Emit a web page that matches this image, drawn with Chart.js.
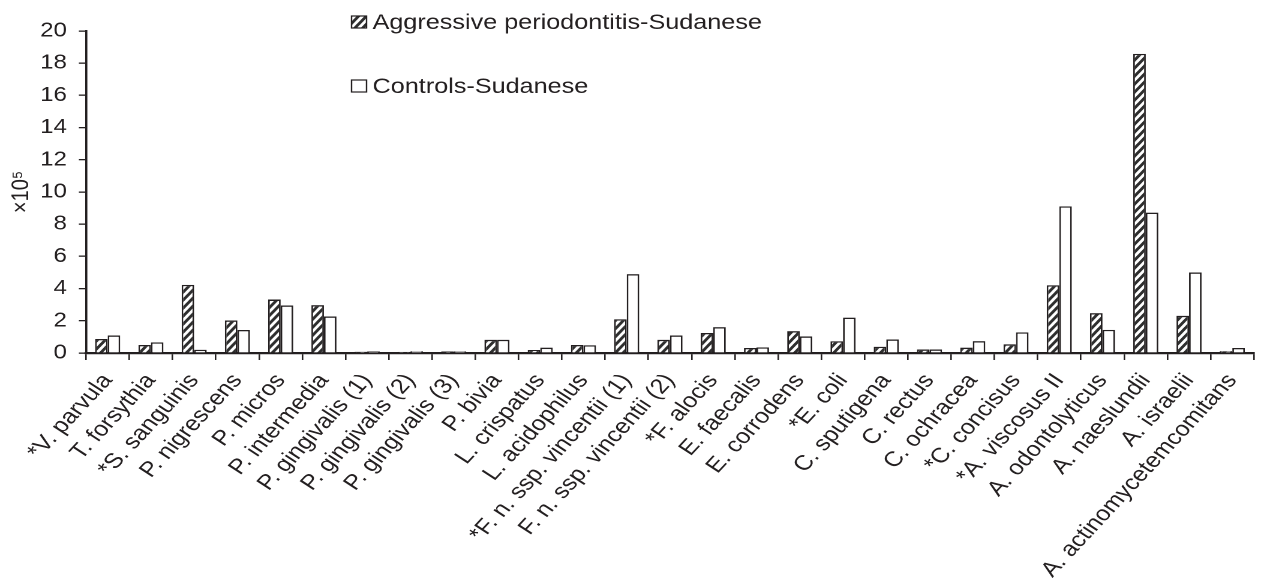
<!DOCTYPE html>
<html>
<head>
<meta charset="utf-8">
<script src="https://cdn.jsdelivr.net/npm/chart.js@4.4.1/dist/chart.umd.min.js"></script>
<style>
  html, body { margin: 0; padding: 0; background: #fff; overflow: hidden; }
  #wrap { width: 1267px; height: 579px; position: relative; overflow: hidden; background: #fff; }
  #c { transform: scaleX(1.19981); transform-origin: 0 0; display: block; }
</style>
</head>
<body>
<div id="wrap"><canvas id="c" width="1056" height="579"></canvas></div>
<script>
const categories = [
  '*V. parvula', 'T. forsythia', '*S. sanguinis', 'P. nigrescens', 'P. micros',
  'P. intermedia', 'P. gingivalis (1)', 'P. gingivalis (2)', 'P. gingivalis (3)',
  'P. bivia', 'L. crispatus', 'L. acidophilus', '*F. n. ssp. vincentii (1)',
  'F. n. ssp. vincentii (2)', '*F. alocis', 'E. faecalis', 'E. corrodens', '*E. coli',
  'C. sputigena', 'C. rectus', 'C. ochracea', '*C. concisus', '*A. viscosus II',
  'A. odontolyticus', 'A. naeslundii', 'A. israelii', 'A. actinomycetemcomitans'
];
const seriesNames = ['Aggressive periodontitis-Sudanese', 'Controls-Sudanese'];
const aggressive = [0.87, 0.50, 4.23, 2.02, 3.32, 2.97, 0.08, 0.07, 0.09, 0.82, 0.19, 0.50, 2.10,
  0.82, 1.24, 0.31, 1.36, 0.73, 0.39, 0.22, 0.33, 0.54, 4.21, 2.48, 18.58, 2.31, 0.12];
const controls = [1.09, 0.66, 0.20, 1.43, 2.95, 2.27, 0.09, 0.11, 0.10, 0.82, 0.33, 0.48, 4.90,
  1.09, 1.61, 0.35, 1.03, 2.20, 0.84, 0.22, 0.74, 1.28, 9.11, 1.44, 8.72, 5.00, 0.31];
const yTickValues = [0, 2, 4, 6, 8, 10, 12, 14, 16, 18, 20];
const yTitle = '×10⁵';

const FONT = "'Liberation Sans', Arial, sans-serif";
const INK = '#231f20';

function makeHatch() {
  const w = 6.5, h = 8;
  const pc = document.createElement('canvas');
  pc.width = w * 2; pc.height = h * 2;
  const p = pc.getContext('2d');
  p.scale(2, 2);
  p.fillStyle = '#fff';
  p.fillRect(0, 0, w, h);
  p.strokeStyle = '#2e2e2e';
  p.lineWidth = 2.6;
  p.beginPath();
  for (let k = -1; k <= 1; k++) {
    p.moveTo(k * w - 1, h + 1.23);
    p.lineTo(k * w + w + 1, -1.23);
  }
  p.stroke();
  const pat = document.getElementById('c').getContext('2d').createPattern(pc, 'repeat');
  if (pat.setTransform) pat.setTransform(new DOMMatrix([0.5, 0, 0, 0.5, 0, 0]));
  return pat;
}
const hatch = makeHatch();

const bgPlugin = {
  id: 'bg',
  beforeDraw(chart) {
    const ctx = chart.ctx;
    ctx.save();
    ctx.fillStyle = '#fff';
    ctx.fillRect(0, 0, chart.width, chart.height);
    ctx.restore();
  }
};

const legendPlugin = {
  id: 'customLegend',
  afterDraw(chart) {
    const ctx = chart.ctx;
    const items = chart.data.datasets;
    const x = 293, ys = [22, 86], bw = 12.5, bh = 12;
    ctx.save();
    items.forEach((ds, i) => {
      const y = ys[i];
      ctx.fillStyle = ds.backgroundColor;
      ctx.fillRect(x, y - bh / 2, bw, bh);
      ctx.strokeStyle = INK;
      ctx.lineWidth = 1.2;
      ctx.strokeRect(x, y - bh / 2, bw, bh);
      ctx.fillStyle = INK;
      ctx.font = '21px ' + FONT;
      ctx.textBaseline = 'middle';
      ctx.textAlign = 'left';
      ctx.fillText(ds.label, 310.5, y + 1);
    });
    ctx.restore();
  }
};

new Chart(document.getElementById('c'), {
  type: 'bar',
  data: {
    labels: categories,
    datasets: [
      { label: seriesNames[0], data: aggressive, backgroundColor: hatch,
        borderColor: INK, borderWidth: 1.4, categoryPercentage: 0.58, barPercentage: 1.0 },
      { label: seriesNames[1], data: controls, backgroundColor: '#ffffff',
        borderColor: INK, borderWidth: 1.4, categoryPercentage: 0.58, barPercentage: 1.0 }
    ]
  },
  options: {
    responsive: false,
    animation: false,
    devicePixelRatio: 2,
    layout: { padding: { top: 31, right: 4, left: 0, bottom: 0 } },
    plugins: {
      legend: { display: false },
      tooltip: { enabled: false }
    },
    scales: {
      x: {
        offset: true,
        grid: { display: true, drawOnChartArea: false, drawTicks: true, tickLength: 7,
                color: INK, lineWidth: 1.3, offset: true },
        border: { display: true, color: INK, width: 2.2 },
        ticks: { color: INK, font: { family: FONT, size: 21 }, maxRotation: 52, minRotation: 52,
                 autoSkip: false, padding: 9 },
        afterFit(scale) { scale.height = 226; }
      },
      y: {
        min: 0, max: 20,
        afterBuildTicks(scale) { scale.ticks = yTickValues.map(v => ({ value: v })); },
        grid: { display: true, drawOnChartArea: false, drawTicks: true, tickLength: 6,
                color: INK, lineWidth: 1.3 },
        border: { display: true, color: INK, width: 1.8 },
        ticks: { color: INK, font: { family: FONT, size: 20 }, padding: 10 },
        title: { display: true, text: yTitle, color: INK, font: { family: FONT, size: 20 },
                 padding: { top: 6, bottom: 0 } },
        afterFit(scale) { scale.width = 71.7; }
      }
    }
  },
  plugins: [bgPlugin, legendPlugin]
});
</script>
</body>
</html>
